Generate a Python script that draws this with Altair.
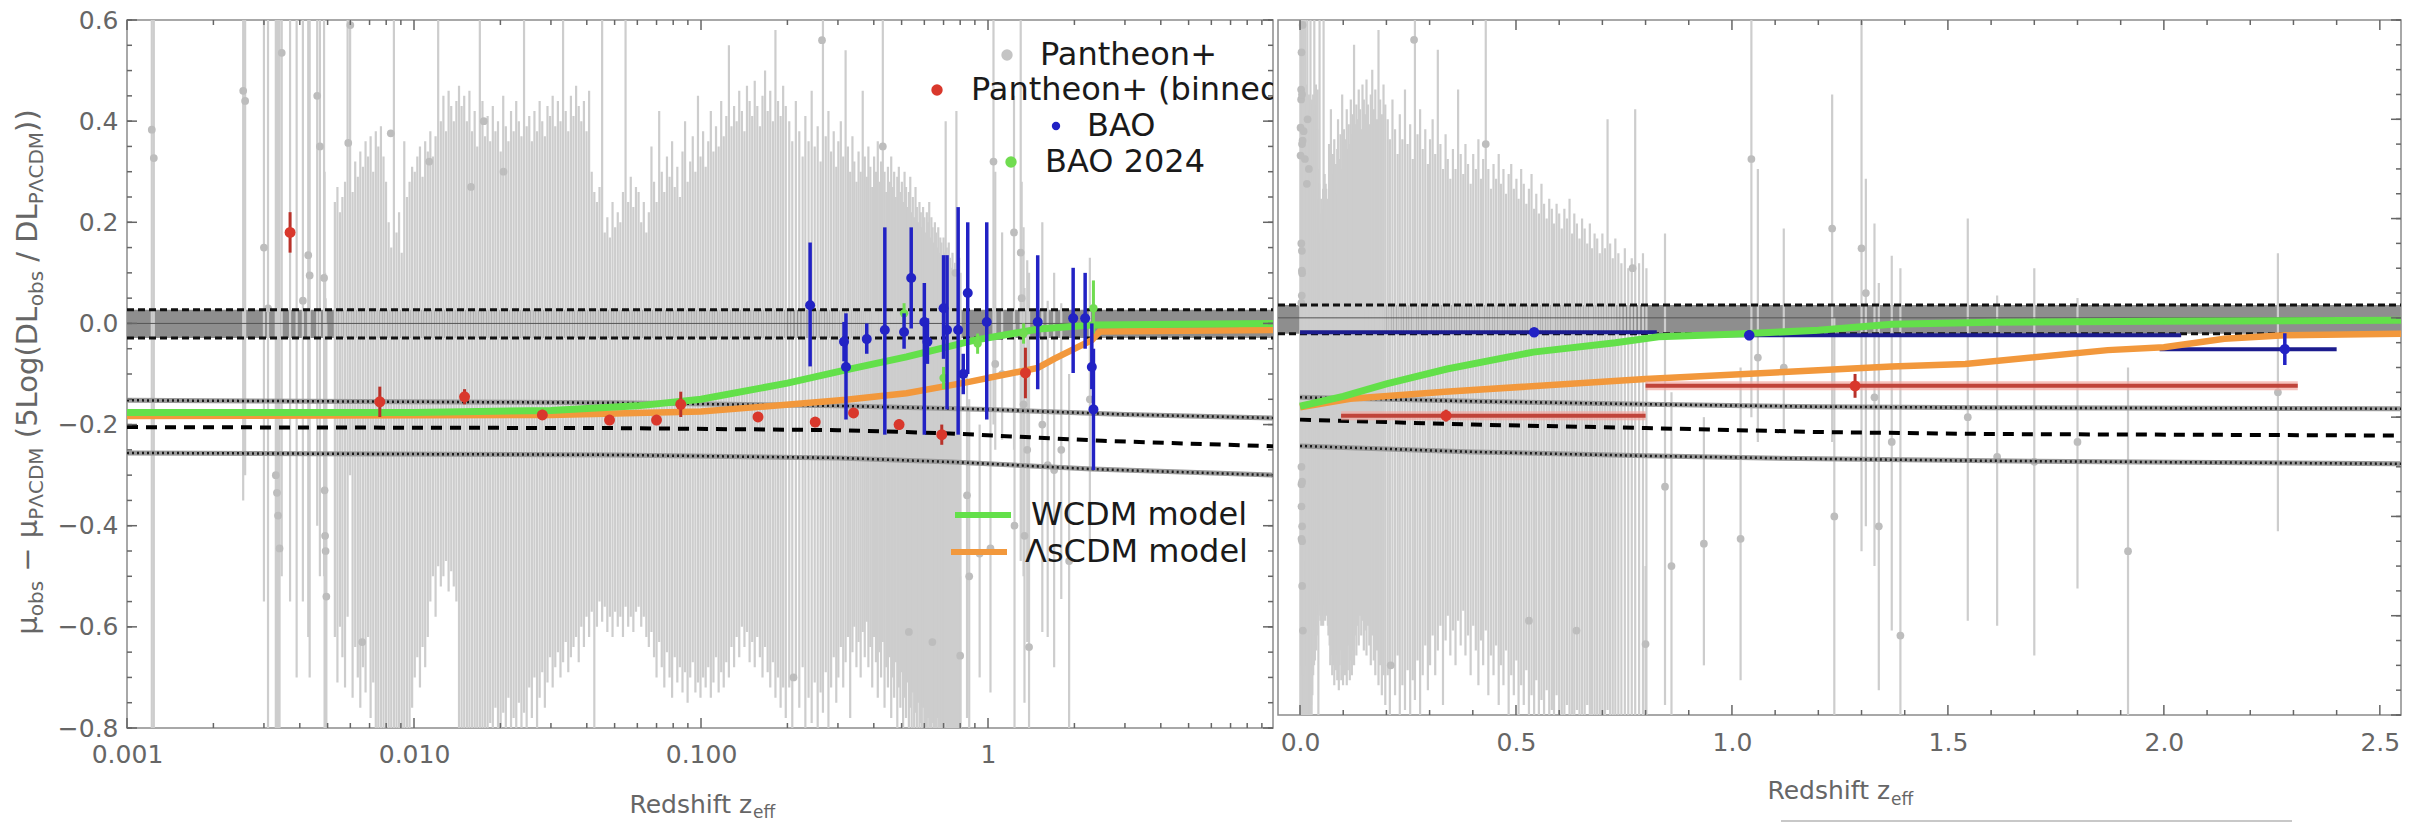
import altair as alt
import pandas as pd

FONT = "DejaVu Sans"

# ---------------- Pantheon+ supernovae: error bars (z, lower end, upper end) ----------------
pantheon_low = [
    (0.00122, -0.90, 1.60), (0.00124, -0.90, 1.50), (0.00254, -0.35, 1.30), (0.00258, -0.30, 1.20),
    (0.00300, -0.55, 0.85), (0.00310, -0.90, 0.90), (0.00330, -1.20, 0.80), (0.00333, -1.20, 0.80),
    (0.00336, -1.30, 0.70), (0.00340, -1.30, 0.70), (0.00346, -0.50, 1.50), (0.00370, -0.55, 0.70),
    (0.00390, -0.70, 0.75), (0.00410, -0.55, 0.65), (0.00428, -0.62, 0.89), (0.00433, -0.70, 0.90),
    (0.00460, -0.40, 1.20), (0.00470, -0.50, 1.20), (0.00486, -0.50, 0.70), (0.00488, -0.85, 0.30),
    (0.00490, -0.90, 0.10), (0.00492, -0.95, 0.05), (0.00495, -1.00, 0.00),
]
pantheon_g1 = [
    (0.00530, -0.62, 0.24), (0.00541, -0.71, 0.27), (0.00552, -0.60, 0.22), (0.00563, -0.66, 0.25), (0.00575, -0.72, 0.28),
    (0.00587, -0.58, 0.75), (0.00599, -0.30, 0.90), (0.00611, -0.74, 0.26), (0.00624, -0.64, 0.32), (0.00637, -0.70, 0.29),
    (0.00650, -0.76, 0.34), (0.00664, -0.68, 0.31), (0.00678, -0.73, 0.36), (0.00692, -0.62, 0.33), (0.00706, -0.78, 0.37),
    (0.00721, -0.71, 0.30), (0.00736, -0.80, 0.38), (0.00751, -0.85, 0.35), (0.00767, -0.90, 0.39), (0.00783, -0.95, 0.33),
    (0.00799, -0.88, 0.28), (0.00816, -0.92, 0.20), (0.00833, -0.86, 0.15), (0.00851, -0.95, 0.72), (0.00869, -0.90, 0.18),
    (0.00887, -0.84, 0.22), (0.00906, -0.92, 0.14), (0.00925, -0.87, 0.36), (0.00945, -0.93, 0.25), (0.00965, -0.82, 0.28),
    (0.00985, -0.76, 0.31), (0.01006, -0.70, 0.30), (0.01027, -0.66, 0.33), (0.01049, -0.72, 0.35), (0.01071, -0.64, 0.29),
    (0.01094, -0.68, 0.36), (0.01117, -0.62, 0.34), (0.01140, -0.55, 0.38), (0.01164, -0.50, 0.33), (0.01189, -0.58, 0.37),
    (0.01214, -0.48, 0.75), (0.01240, -0.52, 0.40), (0.01266, -0.50, 0.45), (0.01293, -0.47, 0.38), (0.01320, -0.53, 0.46),
    (0.01348, -0.49, 0.43), (0.01376, -0.52, 0.40), (0.01405, -0.55, 0.44), (0.01435, -0.85, 0.47), (0.01465, -0.90, 0.43),
    (0.01496, -0.82, 0.45), (0.01528, -0.95, 0.40), (0.01560, -0.88, 0.46), (0.01593, -0.92, 0.38), (0.01627, -0.85, 0.42),
    (0.01661, -0.96, 0.35), (0.01696, -0.90, 0.80), (0.01732, -0.86, 0.44), (0.01768, -0.93, 0.37), (0.01805, -0.88, 0.41),
    (0.01843, -0.79, 0.36), (0.01882, -0.84, 0.43), (0.01922, -0.76, 0.38), (0.01962, -0.90, 0.40), (0.02004, -0.80, 0.34),
    (0.02046, -0.77, 0.45), (0.02089, -0.85, 0.39), (0.02133, -0.74, 0.36), (0.02178, -0.82, 0.42), (0.02224, -0.78, 0.38),
    (0.02271, -0.86, 0.44), (0.02319, -0.75, 0.40), (0.02368, -0.80, 0.37), (0.02418, -0.77, 0.70), (0.02469, -0.84, 0.39),
    (0.02521, -0.72, 0.41), (0.02574, -0.78, 0.36), (0.02628, -0.70, 0.42), (0.02684, -0.82, 0.38), (0.02740, -0.74, 0.44),
    (0.02798, -0.69, 0.40), (0.02857, -0.76, 0.37), (0.02918, -0.71, 0.43), (0.02979, -0.66, 0.41), (0.03042, -0.72, 0.45),
    (0.03106, -0.68, 0.39), (0.03172, -0.65, 0.44), (0.03239, -0.70, 0.40), (0.03307, -0.67, 0.72), (0.03377, -0.63, 0.42),
    (0.03448, -0.69, 0.38), (0.03521, -0.66, 0.45), (0.03595, -0.64, 0.41), (0.03671, -0.62, 0.47), (0.03749, -0.67, 0.43),
    (0.03828, -0.60, 0.40), (0.03909, -0.64, 0.44), (0.03991, -0.58, 0.38), (0.04075, -0.62, 0.46), (0.04161, -0.57, 0.30),
    (0.04249, -0.90, 0.26), (0.04339, -0.60, 0.24), (0.04430, -0.55, 0.27), (0.04524, -0.59, 0.68), (0.04619, -0.56, 0.18),
    (0.04717, -0.61, 0.21), (0.04816, -0.58, 0.17), (0.04918, -0.62, 0.24), (0.05022, -0.57, 0.19), (0.05128, -0.60, 0.22),
    (0.05236, -0.58, 0.20), (0.05347, -0.62, 0.26), (0.05459, -0.56, 0.66), (0.05575, -0.60, 0.24), (0.05692, -0.58, 0.29),
    (0.05812, -0.61, 0.23), (0.05935, -0.57, 0.27),
]
pantheon_g2 = [
    (0.0606, -0.56, 0.26), (0.0619, -0.60, 0.20), (0.0632, -0.58, 0.24), (0.0645, -0.62, 0.18), (0.0658, -0.64, 0.22),
    (0.0672, -0.61, 0.35), (0.0686, -0.66, 0.28), (0.0700, -0.70, 0.24), (0.0715, -0.63, 0.42), (0.0730, -0.68, 0.30),
    (0.0745, -0.72, 0.26), (0.0761, -0.65, 0.33), (0.0777, -0.70, 0.29), (0.0793, -0.74, 0.36), (0.0810, -0.66, 0.27),
    (0.0827, -0.71, 0.31), (0.0844, -0.68, 0.25), (0.0862, -0.73, 0.34), (0.0880, -0.69, 0.40), (0.0898, -0.75, 0.28),
    (0.0917, -0.70, 0.32), (0.0936, -0.67, 0.37), (0.0956, -0.73, 0.30), (0.0976, -0.71, 0.45), (0.0996, -0.74, 0.33),
    (0.1017, -0.70, 0.38), (0.1038, -0.72, 0.31), (0.1060, -0.68, 0.36), (0.1082, -0.74, 0.42), (0.1105, -0.71, 0.34),
    (0.1128, -0.66, 0.39), (0.1152, -0.73, 0.35), (0.1176, -0.69, 0.44), (0.1200, -0.72, 0.37), (0.1225, -0.67, 0.41),
    (0.1251, -0.70, 0.55), (0.1277, -0.64, 0.39), (0.1304, -0.68, 0.43), (0.1331, -0.62, 0.40), (0.1359, -0.66, 0.46),
    (0.1388, -0.60, 0.42), (0.1417, -0.64, 0.38), (0.1446, -0.61, 0.47), (0.1477, -0.67, 0.44), (0.1508, -0.63, 0.41),
    (0.1539, -0.68, 0.48), (0.1571, -0.62, 0.43), (0.1604, -0.66, 0.39), (0.1638, -0.70, 0.45), (0.1672, -0.64, 0.50),
    (0.1707, -0.69, 0.42), (0.1743, -0.72, 0.46), (0.1780, -0.67, 0.40), (0.1817, -0.74, 0.58), (0.1855, -0.70, 0.44),
    (0.1894, -0.76, 0.41), (0.1933, -0.72, 0.47), (0.1974, -0.78, 0.43),
]
pantheon_g3 = [
    (0.203, -0.72, 0.40), (0.208, -0.80, 0.36), (0.214, -0.70, 0.44), (0.220, -0.76, 0.38), (0.226, -0.68, 0.33),
    (0.231, -0.82, 0.41), (0.237, -0.74, 0.36), (0.243, -0.79, 0.46), (0.249, -0.71, 0.35), (0.255, -0.85, 0.39),
    (0.261, -0.73, 0.32), (0.266, -0.77, 0.75), (0.272, -0.69, 0.37), (0.278, -0.80, 0.42), (0.284, -0.72, 0.34),
    (0.290, -0.66, 0.38), (0.296, -0.75, 0.31), (0.301, -0.70, 0.36), (0.307, -0.64, 0.40), (0.313, -0.72, 0.33),
    (0.319, -0.67, 0.54), (0.325, -0.62, 0.35), (0.331, -0.78, 0.30), (0.337, -0.65, 0.37), (0.342, -0.60, 0.32),
    (0.348, -0.68, 0.28), (0.354, -0.63, 0.34), (0.360, -0.70, 0.30), (0.366, -0.61, 0.46), (0.372, -0.66, 0.33),
    (0.378, -0.59, 0.29), (0.383, -0.68, 0.35), (0.389, -0.64, 0.31), (0.395, -0.72, 0.27), (0.401, -0.62, 0.33),
    (0.407, -0.67, 0.30), (0.413, -0.74, 0.36), (0.419, -0.65, 0.28), (0.424, -0.70, 0.32), (0.430, -0.63, 0.60),
    (0.436, -0.76, 0.30), (0.442, -0.68, 0.26), (0.448, -0.72, 0.31), (0.454, -0.66, 0.28), (0.460, -0.78, 0.33),
    (0.465, -0.70, 0.27), (0.471, -0.74, 0.30), (0.477, -0.67, 0.25), (0.483, -0.80, 0.29), (0.489, -0.72, 0.31),
    (0.495, -0.76, 0.26), (0.501, -0.69, 0.28), (0.506, -0.82, 0.24), (0.512, -0.74, 0.30), (0.518, -0.78, 0.27),
    (0.524, -0.71, 0.23), (0.530, -0.85, 0.26), (0.536, -0.76, 0.29), (0.542, -0.80, 0.22), (0.547, -0.73, 0.25),
    (0.553, -0.88, 0.21), (0.559, -0.77, 0.27), (0.565, -0.82, 0.23), (0.571, -0.75, 0.20), (0.577, -0.90, 0.24),
    (0.583, -0.79, 0.22), (0.588, -0.84, 0.19), (0.594, -0.76, 0.23), (0.600, -0.86, 0.21), (0.606, -0.80, 0.18),
    (0.612, -0.92, 0.22), (0.618, -0.78, 0.20), (0.624, -0.85, 0.24), (0.630, -0.81, 0.17), (0.635, -0.95, 0.21),
    (0.641, -0.79, 0.19), (0.647, -0.87, 0.16), (0.653, -0.82, 0.20), (0.659, -0.90, 0.18), (0.665, -0.78, 0.15),
    (0.671, -0.86, 0.19), (0.676, -0.83, 0.14), (0.682, -0.94, 0.17), (0.688, -0.80, 0.16), (0.694, -0.88, 0.13),
    (0.700, -0.84, 0.17), (0.706, -0.91, 0.14), (0.712, -0.79, 0.40), (0.718, -0.86, 0.15), (0.724, -0.82, 0.12),
    (0.730, -0.93, 0.16), (0.737, -0.85, 0.13), (0.744, -0.80, 0.11), (0.752, -0.90, 0.14), (0.760, -0.84, 0.10),
    (0.768, -0.88, 0.12), (0.776, -0.82, 0.42), (0.785, -0.95, 0.11), (0.794, -0.86, 0.13), (0.802, -0.80, 0.10),
]
pantheon_high = [
    (0.800, -0.80, -0.50), (0.845, -0.78, 0.17), (0.860, -0.85, -0.15), (0.935, -0.70, -0.20),
    (1.020, -0.73, -0.10), (1.045, -0.20, 0.65), (1.060, -0.25, 0.30), (1.120, -0.23, 0.18),
    (1.232, -0.25, 0.45), (1.237, -0.85, 0.00), (1.300, -0.47, 0.75), (1.310, -0.42, 0.28),
    (1.330, -0.50, 0.19), (1.340, -0.75, 0.07), (1.370, -0.63, 0.125), (1.390, -0.85, 0.10),
    (1.546, -0.61, 0.20), (1.614, -0.62, 0.045), (1.700, -0.68, 0.10), (1.800, -0.545, 0.04),
    (1.917, -0.85, -0.10), (2.264, -0.43, 0.13),
]
# visible Pantheon+ points (z, residual)
pantheon_dots = [
    (0.00122, 0.383), (0.00124, 0.327), (0.00254, 0.46), (0.00258, 0.44), (0.0030, 0.15), (0.0031, 0.03),
    (0.0033, -0.30), (0.00333, -0.335), (0.00336, -0.38), (0.0034, -0.445), (0.00346, 0.535), (0.0041, 0.045),
    (0.00428, 0.135), (0.00433, 0.095), (0.0046, 0.45), (0.0047, 0.35), (0.00486, 0.09), (0.00488, -0.33),
    (0.0049, -0.42), (0.00492, -0.45), (0.00495, -0.54), (0.0059, 0.357), (0.0060, 0.59), (0.0066, -0.63),
    (0.0083, 0.376), (0.0113, 0.32), (0.0158, 0.27), (0.0175, 0.40), (0.0205, 0.30), (0.21, -0.70),
    (0.264, 0.56), (0.43, 0.35), (0.53, -0.61), (0.64, -0.63), (0.77, 0.10), (0.80, -0.657),
    (0.845, -0.34), (0.86, -0.50), (0.935, -0.455), (1.02, -0.445), (1.045, 0.32), (1.06, -0.08),
    (1.12, -0.10), (1.232, 0.18), (1.237, -0.40), (1.30, 0.14), (1.31, 0.05), (1.33, -0.16), (1.34, -0.42),
    (1.37, -0.25), (1.39, -0.64), (1.546, -0.20), (1.614, -0.28), (1.70, -0.29), (1.80, -0.25),
    (1.917, -0.47), (2.264, -0.15),
]

# ---------------- Pantheon+ binned (left panel) ----------------
bin_z = [0.0037, 0.0076, 0.0150, 0.0280, 0.0480, 0.0700, 0.0850, 0.158, 0.250, 0.340, 0.490, 0.690, 1.350]
bin_v = [0.180, -0.155, -0.145, -0.181, -0.191, -0.191, -0.160, -0.185, -0.195, -0.177, -0.200, -0.220, -0.098]
bin_err = [0.040, 0.030, 0.015, 0.010, 0.010, 0.010, 0.025, 0.010, 0.010, 0.010, 0.010, 0.020, 0.050]

# ---------------- BAO (left panel) ----------------
bao_z = [0.240, 0.315, 0.320, 0.378, 0.437, 0.510, 0.540, 0.600, 0.615, 0.700, 0.720, 0.787, 0.820, 0.850,
         0.990, 1.490, 1.980, 2.180, 2.300, 2.330]
bao_v = [0.036, -0.036, -0.086, -0.031, -0.013, -0.017, 0.090, 0.003, -0.036, 0.030, -0.013, -0.013, -0.100,
         0.060, 0.003, 0.003, 0.010, 0.010, -0.086, -0.170]
bao_lo = [-0.085, -0.075, -0.190, -0.060, -0.220, -0.050, -0.010, -0.220, -0.080, -0.070, -0.170, -0.220,
          -0.140, -0.100, -0.190, -0.130, -0.098, -0.050, -0.130, -0.290]
bao_hi = [0.160, 0.003, 0.020, 0.000, 0.190, 0.020, 0.190, 0.080, 0.010, 0.135, 0.135, 0.230, -0.060,
          0.200, 0.200, 0.135, 0.110, 0.100, 0.000, -0.050]
bao24_z = [0.510, 0.700, 0.920, 1.330, 2.330]
bao24_v = [0.020, -0.108, -0.040, -0.020, 0.030]
bao24_lo = [0.000, -0.130, -0.060, -0.040, -0.020]
bao24_hi = [0.040, -0.086, -0.020, 0.000, 0.085]

# ---------------- model curves, left panel (log z) ----------------
wcdm_L_z = [0.001, 0.01, 0.03, 0.06, 0.1, 0.2, 0.32, 0.52, 0.9, 1.5, 2.3, 9.84]
wcdm_L_v = [-0.176, -0.176, -0.172, -0.163, -0.150, -0.118, -0.092, -0.066, -0.033, -0.011, -0.003, 0.0]
lscdm_L_z = [0.001, 0.03, 0.1, 0.16, 0.32, 0.52, 0.85, 1.49, 1.7, 2.3, 2.45, 9.84]
lscdm_L_v = [-0.183, -0.181, -0.174, -0.165, -0.151, -0.138, -0.116, -0.088, -0.070, -0.033, -0.016, -0.013]
upper_L_z = [0.001, 0.05, 0.3, 1.0, 3.0, 9.84]
upper_L_v = [-0.152, -0.157, -0.163, -0.170, -0.180, -0.187]
dash_L_z = [0.001, 0.05, 0.3, 0.7, 2.5, 9.84]
dash_L_v = [-0.205, -0.207, -0.211, -0.217, -0.232, -0.243]
lower_L_z = [0.001, 0.05, 0.3, 0.75, 2.3, 9.84]
lower_L_v = [-0.256, -0.260, -0.266, -0.274, -0.288, -0.300]

# ---------------- right panel (linear z) ----------------
wcdm_R_z = [0.0, 0.1, 0.2, 0.34, 0.54, 0.73, 0.83, 1.0, 1.2, 1.37, 1.6, 2.0, 2.549]
wcdm_R_v = [-0.178, -0.158, -0.133, -0.103, -0.069, -0.050, -0.038, -0.033, -0.025, -0.013, -0.009, -0.007, -0.005]
lscdm_R_z = [0.0, 0.116, 0.336, 0.8, 1.12, 1.37, 1.54, 1.87, 2.0, 2.14, 2.28, 2.549]
lscdm_R_v = [-0.180, -0.163, -0.149, -0.123, -0.109, -0.098, -0.093, -0.065, -0.059, -0.042, -0.035, -0.032]
upper_R_z = [0.0, 0.4, 0.8, 1.2, 1.6, 2.549]
upper_R_v = [-0.160, -0.168, -0.174, -0.179, -0.181, -0.183]
dash_R_z = [0.0, 0.4, 0.8, 1.2, 1.6, 2.549]
dash_R_v = [-0.205, -0.215, -0.222, -0.230, -0.234, -0.237]
lower_R_z = [0.0, 0.4, 0.8, 1.2, 1.6, 2.549]
lower_R_v = [-0.258, -0.270, -0.278, -0.284, -0.288, -0.294]
binR_z = [0.338, 1.285]
binR_v = [-0.197, -0.137]
binR_z0 = [0.095, 0.800]
binR_z1 = [0.800, 2.310]
binR_err = [0.012, 0.024]
baoR_z = [0.542, 1.040, 2.280]
baoR_v = [-0.029, -0.035, -0.063]
baoR_z0 = [0.000, 0.826, 1.990]
baoR_z1 = [0.826, 2.040, 2.400]
baoR_err = [0.006, 0.010, 0.032]

band_L = [-0.029, 0.027]
band_R = [-0.032, 0.026]

# ticks
y_ticks_all = [-0.8, -0.75, -0.7, -0.65, -0.6, -0.55, -0.5, -0.45, -0.4, -0.35, -0.3, -0.25, -0.2, -0.15,
               -0.1, -0.05, 0.0, 0.05, 0.1, 0.15, 0.2, 0.25, 0.3, 0.35, 0.4, 0.45, 0.5, 0.55, 0.6]
y_ticks_major = [-0.8, -0.6, -0.4, -0.2, 0.0, 0.2, 0.4, 0.6]
xL_major = [0.001, 0.01, 0.1, 1.0]
xL_minor = [0.002, 0.003, 0.004, 0.005, 0.006, 0.007, 0.008, 0.009, 0.02, 0.03, 0.04, 0.05, 0.06, 0.07,
            0.08, 0.09, 0.2, 0.3, 0.4, 0.5, 0.6, 0.7, 0.8, 0.9, 2, 3, 4, 5, 6, 7, 8, 9]
xR_major = [0.0, 0.5, 1.0, 1.5, 2.0, 2.5]
xR_minor = [0.1, 0.2, 0.3, 0.4, 0.6, 0.7, 0.8, 0.9, 1.1, 1.2, 1.3, 1.4, 1.6, 1.7, 1.8, 1.9, 2.1, 2.2,
            2.3, 2.4]

# y-axis title, split into normal text and subscripts
ytitle_parts = [("μ", False), ("obs", True), (" − μ", False), ("PΛCDM", True), (" (5Log(DL", False),
                ("obs", True), (" / DL", False), ("PΛCDM", True), ("))", False)]

# ---------------- layout constants ----------------
W_L, H_L = 1146, 708
W_R, H_R = 1123, 695

GREY_BAR = "#cdcdcd"
GREEN = "#63e04a"
ORANGE = "#f2983c"
RED = "#d9382c"
DRED = "#b8322a"
BLUE = "#2222c4"
NAVY = "#1c1c8e"
TXT = "#666666"

# DejaVu Sans advance widths (em) used to lay out the sub-scripted title
ADV = {"μ": 0.636, "o": 0.612, "b": 0.635, "s": 0.521, " ": 0.318, "−": 0.838, "P": 0.603, "Λ": 0.684,
       "C": 0.698, "D": 0.770, "M": 0.863, "(": 0.390, ")": 0.390, "5": 0.636, "L": 0.557, "g": 0.635,
       "/": 0.337}

ys = alt.Scale(domain=[-0.8, 0.6], nice=False, zero=False)
xsL = alt.Scale(type="log", domain=[0.001, 9.84], nice=False)
xsR = alt.Scale(domain=[-0.051, 2.549], nice=False, zero=False)

axXL = alt.Axis(values=xL_major, labelExpr="datum.value >= 1 ? '1' : format(datum.value, '.3f')",
                ticks=False, domain=False, grid=False, labelFont=FONT, labelFontSize=25,
                labelColor=TXT, labelPadding=14, labelFlush=False, title=None)
axYL = alt.Axis(values=y_ticks_major, format=".1f", ticks=False, domain=False, grid=False,
                labelFont=FONT, labelFontSize=25, labelColor=TXT, labelPadding=9, title=None)
axXR = alt.Axis(values=xR_major, format=".1f", ticks=False, domain=False, grid=False,
                labelFont=FONT, labelFontSize=25, labelColor=TXT, labelPadding=15,
                labelFlush=False, title=None)

one = pd.DataFrame({"k": [0]})


def df_xy(zs, vs):
    return pd.DataFrame({"z": zs, "v": vs})


def ytitle_layers():
    out = []
    main_fs, sub_fs = 29, 20
    widths = [sum(ADV[c] for c in t) * (sub_fs if s else main_fs) for t, s in ytitle_parts]
    total = sum(widths)
    y = H_L / 2 + total / 2 - 2
    for (t, s), w in zip(ytitle_parts, widths):
        fs = sub_fs if s else main_fs
        lead = (len(t) - len(t.lstrip(" "))) * ADV[" "] * fs
        out.append(alt.Chart(one).mark_text(text=t.strip(), align="left", baseline="alphabetic", angle=270,
                                            font=FONT, fontSize=fs, color=TXT)
                   .encode(x=alt.value(-84 if s else -90), y=alt.value(y - lead)))
        y -= w
    return out


def build_panel(xs, axx, axy, W, H, curves, band, extras, tick_x_major, tick_x_minor,
                title_split, title_base, sub_base, left_ticks):
    def X(f):
        return alt.X(f, type="quantitative", scale=xs, axis=axx)

    def Y(f):
        return alt.Y(f, type="quantitative", scale=ys, axis=axy)

    bars = pd.DataFrame(pantheon_low + pantheon_g1 + pantheon_g2 + pantheon_g3 + pantheon_high,
                        columns=["z", "lo", "hi"])
    dots = pd.DataFrame(pantheon_dots, columns=["z", "v"])

    L = []
    L.append(alt.Chart(pd.DataFrame({"lo": [band[0]], "hi": [band[1]]})).mark_rect(color="#8e8e8e")
             .encode(y=Y("lo"), y2="hi", x=alt.value(0), x2=alt.value(W)))
    L.append(alt.Chart(bars).mark_rule(color=GREY_BAR, strokeWidth=2.2, clip=True)
             .encode(x=X("z"), y=Y("lo"), y2="hi"))
    L.append(alt.Chart(dots).mark_circle(color="#bdbdbd", size=60, opacity=1, clip=True)
             .encode(x=X("z"), y=Y("v")))
    L.append(alt.Chart(pd.DataFrame({"v": [0.0]})).mark_rule(color="#555555", strokeWidth=1)
             .encode(y=Y("v"), x=alt.value(0), x2=alt.value(W)))
    L.append(alt.Chart(pd.DataFrame({"v": band})).mark_rule(color="#111111", strokeWidth=3, strokeDash=[7, 4])
             .encode(y=Y("v"), x=alt.value(0), x2=alt.value(W)))
    upper, dash, lower, wcdm, lscdm = curves
    for c in (upper, lower):
        L.append(alt.Chart(c).mark_line(color="#9a9a9a", strokeWidth=5, clip=True).encode(x=X("z"), y=Y("v")))
        L.append(alt.Chart(c).mark_line(color="#1a1a1a", strokeWidth=2.5, strokeDash=[2, 3], clip=True)
                 .encode(x=X("z"), y=Y("v")))
    L.append(alt.Chart(dash).mark_line(color="#000000", strokeWidth=4, strokeDash=[11, 8], clip=True)
             .encode(x=X("z"), y=Y("v")))
    L.extend(extras(X, Y, "pre"))
    L.append(alt.Chart(lscdm).mark_line(color=ORANGE, strokeWidth=6.5, clip=True).encode(x=X("z"), y=Y("v")))
    L.append(alt.Chart(wcdm).mark_line(color=GREEN, strokeWidth=7, clip=True).encode(x=X("z"), y=Y("v")))
    L.extend(extras(X, Y, "post"))

    # inward ticks (Mathematica-style frame ticks)
    tk = "#666666"
    yall = pd.DataFrame({"t": y_ticks_all})
    ymaj = pd.DataFrame({"t": y_ticks_major})
    for d, ln in ((yall, 5), (ymaj, 10)):
        if left_ticks:
            L.append(alt.Chart(d).mark_rule(color=tk, strokeWidth=1.5)
                     .encode(y=Y("t"), x=alt.value(0), x2=alt.value(ln)))
        L.append(alt.Chart(d).mark_rule(color=tk, strokeWidth=1.5)
                 .encode(y=Y("t"), x=alt.value(W - ln), x2=alt.value(W)))
    for vals, ln in ((tick_x_minor, 5), (tick_x_major, 10)):
        d = pd.DataFrame({"t": vals})
        L.append(alt.Chart(d).mark_rule(color=tk, strokeWidth=1.5)
                 .encode(x=X("t"), y=alt.value(H - ln), y2=alt.value(H)))
        L.append(alt.Chart(d).mark_rule(color=tk, strokeWidth=1.5)
                 .encode(x=X("t"), y=alt.value(0), y2=alt.value(ln)))

    # x axis title with subscript
    L.append(alt.Chart(one).mark_text(text="Redshift z", align="right", baseline="alphabetic",
                                      font=FONT, fontSize=25, color=TXT)
             .encode(x=alt.value(title_split), y=alt.value(title_base)))
    L.append(alt.Chart(one).mark_text(text="eff", align="left", baseline="alphabetic",
                                      font=FONT, fontSize=17, color=TXT)
             .encode(x=alt.value(title_split + 1), y=alt.value(sub_base)))
    return alt.layer(*L).properties(width=W, height=H)


def left_extras(X, Y, stage):
    out = []
    if stage == "pre":
        return out
    rb = pd.DataFrame({"z": bin_z, "v": bin_v, "lo": [a - b for a, b in zip(bin_v, bin_err)],
                       "hi": [a + b for a, b in zip(bin_v, bin_err)]})
    out.append(alt.Chart(rb).mark_rule(color=DRED, strokeWidth=3, clip=True).encode(x=X("z"), y=Y("lo"), y2="hi"))
    out.append(alt.Chart(rb).mark_circle(color=RED, size=120, opacity=1, clip=True).encode(x=X("z"), y=Y("v")))
    g = pd.DataFrame({"z": bao24_z, "v": bao24_v, "lo": bao24_lo, "hi": bao24_hi})
    out.append(alt.Chart(g).mark_rule(color="#70dc50", strokeWidth=3, clip=True).encode(x=X("z"), y=Y("lo"), y2="hi"))
    out.append(alt.Chart(g).mark_circle(color="#70dc50", size=70, opacity=1, clip=True).encode(x=X("z"), y=Y("v")))
    b = pd.DataFrame({"z": bao_z, "v": bao_v, "lo": bao_lo, "hi": bao_hi})
    out.append(alt.Chart(b).mark_rule(color=BLUE, strokeWidth=3.5, clip=True).encode(x=X("z"), y=Y("lo"), y2="hi"))
    out.append(alt.Chart(b).mark_circle(color=BLUE, size=100, opacity=1, clip=True).encode(x=X("z"), y=Y("v")))

    # legend (upper right)
    legend_rows = [("Pantheon+", "#c4c4c4", 130, 880, 913, 35),
                   ("Pantheon+ (binned)", RED, 130, 810, 844, 70),
                   ("BAO", BLUE, 70, 929, 960, 106),
                   ("BAO 2024", "#70dc50", 130, 884, 918, 142)]
    for label, col, sz, mx, tx, y in legend_rows:
        out.append(alt.Chart(one).mark_circle(color=col, size=sz, opacity=1)
                   .encode(x=alt.value(mx), y=alt.value(y)))
        out.append(alt.Chart(one).mark_text(text=label, align="left", baseline="middle", font=FONT,
                                            fontSize=32, color="#1a1a1a", clip=True)
                   .encode(x=alt.value(tx), y=alt.value(y)))
    for label, col, x0, x1, tx, y in (("WCDM model", GREEN, 828, 884, 904, 495),
                                       ("ΛsCDM model", ORANGE, 824, 880, 898, 532)):
        out.append(alt.Chart(one).mark_rule(color=col, strokeWidth=6)
                   .encode(x=alt.value(x0), x2=alt.value(x1), y=alt.value(y)))
        out.append(alt.Chart(one).mark_text(text=label, align="left", baseline="middle", font=FONT,
                                            fontSize=32, color="#1a1a1a")
                   .encode(x=alt.value(tx), y=alt.value(y)))
    out.extend(ytitle_layers())
    return out


def right_extras(X, Y, stage):
    out = []
    rb = pd.DataFrame({"z": binR_z, "v": binR_v, "z0": binR_z0, "z1": binR_z1,
                       "lo": [a - b for a, b in zip(binR_v, binR_err)],
                       "hi": [a + b for a, b in zip(binR_v, binR_err)]})
    bb = pd.DataFrame({"z": baoR_z, "v": baoR_v, "z0": baoR_z0, "z1": baoR_z1,
                       "lo": [a - b for a, b in zip(baoR_v, baoR_err)],
                       "hi": [a + b for a, b in zip(baoR_v, baoR_err)]})
    if stage == "pre":
        out.append(alt.Chart(bb).mark_rule(color=NAVY, strokeWidth=4, clip=True)
                   .encode(x=X("z0"), x2="z1", y=Y("v")))
        return out
    out.append(alt.Chart(rb).mark_rule(color="#f2aaa2", strokeWidth=9, opacity=0.7, clip=True)
               .encode(x=X("z0"), x2="z1", y=Y("v")))
    out.append(alt.Chart(rb).mark_rule(color="#c0443a", strokeWidth=4, clip=True)
               .encode(x=X("z0"), x2="z1", y=Y("v")))
    out.append(alt.Chart(rb).mark_rule(color=DRED, strokeWidth=3, clip=True)
               .encode(x=X("z"), y=Y("lo"), y2="hi"))
    out.append(alt.Chart(rb).mark_circle(color=RED, size=120, opacity=1, clip=True)
               .encode(x=X("z"), y=Y("v")))
    out.append(alt.Chart(bb).mark_rule(color=BLUE, strokeWidth=3.5, clip=True)
               .encode(x=X("z"), y=Y("lo"), y2="hi"))
    out.append(alt.Chart(bb).mark_circle(color=BLUE, size=110, opacity=1, clip=True)
               .encode(x=X("z"), y=Y("v")))
    # thin separator line under the right panel (as in the source image)
    out.append(alt.Chart(one).mark_rule(color="#c8c8c8", strokeWidth=2)
               .encode(x=alt.value(503), x2=alt.value(1014), y=alt.value(801)))
    return out


curves_L = (df_xy(upper_L_z, upper_L_v), df_xy(dash_L_z, dash_L_v), df_xy(lower_L_z, lower_L_v),
            df_xy(wcdm_L_z, wcdm_L_v), df_xy(lscdm_L_z, lscdm_L_v))
curves_R = (df_xy(upper_R_z, upper_R_v), df_xy(dash_R_z, dash_R_v), df_xy(lower_R_z, lower_R_v),
            df_xy(wcdm_R_z, wcdm_R_v), df_xy(lscdm_R_z, lscdm_R_v))

left = build_panel(xsL, axXL, axYL, W_L, H_L, curves_L, band_L, left_extras, xL_major, xL_minor,
                   625, 793, 798, True)
right = build_panel(xsR, axXR, None, W_R, H_R, curves_R, band_R, right_extras, xR_major, xR_minor,
                    612, 779, 785, False)

chart = (alt.hconcat(left, right, spacing=5, bounds="flush")
         .properties(padding={"left": 13, "top": 7, "right": 2, "bottom": 0})
         .configure(font=FONT)
         .configure_view(stroke="#8c8c8c", strokeWidth=1.5))

chart.save("out.html", embed_options={"renderer": "svg", "actions": False})
